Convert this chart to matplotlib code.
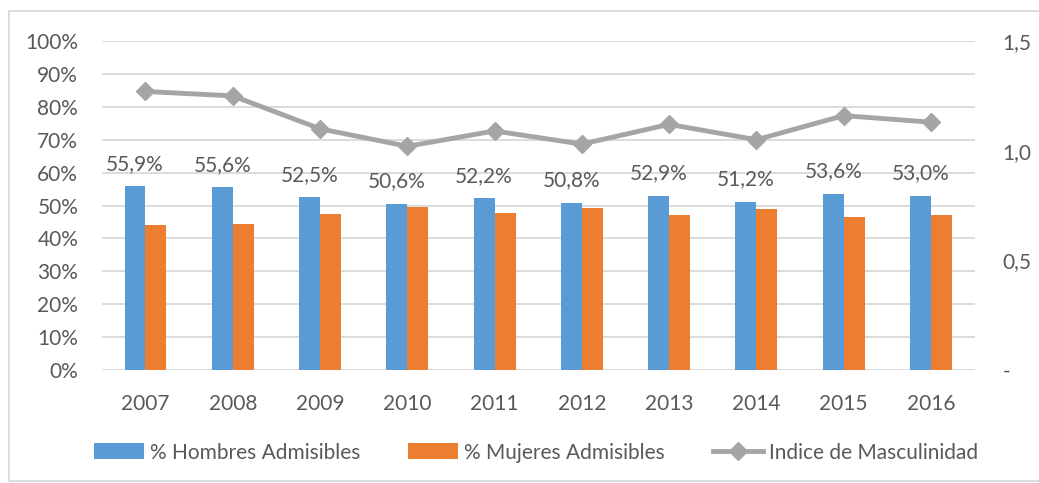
import numpy as np
import matplotlib.pyplot as plt
from matplotlib.patches import Rectangle

years = ['2007', '2008', '2009', '2010', '2011', '2012', '2013', '2014', '2015', '2016']
hombres = [55.9, 55.6, 52.5, 50.6, 52.2, 50.8, 52.9, 51.2, 53.6, 53.0]
mujeres = [44.1, 44.4, 47.5, 49.4, 47.8, 49.2, 47.1, 48.8, 46.4, 47.0]
indice = [1.27, 1.25, 1.10, 1.02, 1.09, 1.03, 1.12, 1.05, 1.16, 1.13]

plt.rcParams['font.family'] = ['Lato', 'DejaVu Sans']
text_color = '#595959'
grid_color = '#D9D9D9'
fs = 15

fig = plt.figure(figsize=(10.39, 4.83), dpi=100)
ax = fig.add_axes([0.098, 0.234, 0.840, 0.681])
ax2 = ax.twinx()

x = np.arange(len(years))
w = 0.24
bh = ax.bar(x - w / 2, hombres, w, color='#5B9BD5', label='% Hombres Admisibles', zorder=2)
bm = ax.bar(x + w / 2, mujeres, w, color='#ED7D31', label='% Mujeres Admisibles', zorder=2)

for xi, v in zip(x, hombres):
    ax.annotate(f'{v:.1f}%'.replace('.', ','), (xi - w / 2, v), xytext=(0, 9),
                textcoords='offset points', ha='center', va='bottom',
                fontsize=fs, color=text_color)

ax.set_ylim(0, 100)
ax.set_xlim(-0.5, len(years) - 0.5)
ax.set_yticks(range(0, 101, 10))
ax.set_yticklabels([f'{t}%' for t in range(0, 101, 10)])
ax.yaxis.grid(True, color=grid_color, linewidth=1.3, zorder=0)
ax.set_axisbelow(True)
ax.set_xticks(x)
ax.set_xticklabels(years)
ax.tick_params(axis='both', length=0, labelsize=fs, labelcolor=text_color)
ax.tick_params(axis='x', pad=17)
ax.tick_params(axis='y', pad=17)
for s in ax.spines.values():
    s.set_visible(False)
for s in ax2.spines.values():
    s.set_visible(False)

ln, = ax2.plot(x, indice, color='#A5A5A5', linewidth=3.5, marker='D', markersize=9.5,
               label='Indice de Masculinidad', zorder=3)
ax2.set_ylim(0, 1.5)
ax2.set_yticks([0, 0.5, 1.0, 1.5])
ax2.set_yticklabels(['-', '0,5', '1,0', '1,5'])
ax2.tick_params(axis='y', length=0, labelsize=fs, labelcolor=text_color, pad=20)

ax.set_zorder(1)
ax2.set_zorder(2)
ax.patch.set_visible(False)

fig.legend([bh, bm, ln], ['% Hombres Admisibles', '% Mujeres Admisibles', 'Indice de Masculinidad'],
           loc='center', bbox_to_anchor=(0.516, 0.063), ncol=3, frameon=False,
           fontsize=fs, labelcolor=text_color, handlelength=2.4, handleheight=0.8,
           columnspacing=2.3, handletextpad=0.3)

fig.patches.append(Rectangle((9 / 1039, 0.005), 1.2, 1 - 11 / 483 - 0.005, transform=fig.transFigure,
                             fill=False, edgecolor=grid_color, linewidth=1.3))

fig.savefig('out.png', dpi=100)
